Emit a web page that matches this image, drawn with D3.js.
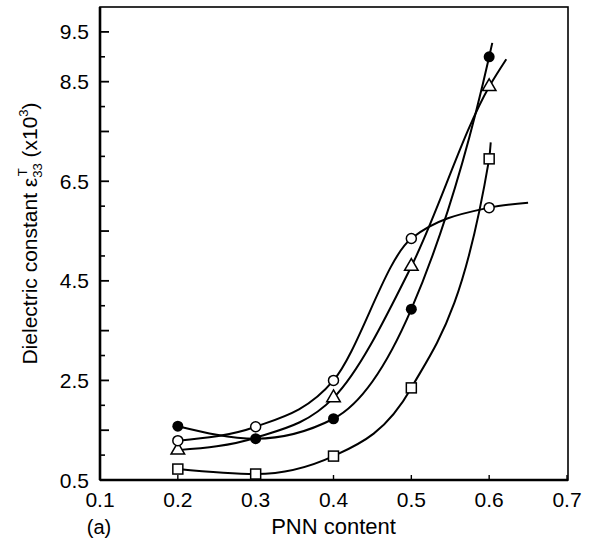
<!DOCTYPE html>
<html>
<head>
<meta charset="utf-8">
<script src="https://cdn.jsdelivr.net/npm/d3@7"></script>
<style>
  body { margin: 0; background: #fff; }
  text { font-family: "Liberation Sans", Arial, Helvetica, sans-serif; fill: #000; }
</style>
</head>
<body>
<div id="chart"></div>
<script>
// PNN content (x) and dielectric constant values (x10^3)
const pnn = [0.2, 0.3, 0.4, 0.5, 0.6];
const openCircle = [1.29, 1.57, 2.50, 5.35, 5.97];
const filledCircle = [1.58, 1.33, 1.73, 3.93, 9.00];
const triangle = [1.10, 1.35, 2.15, 4.79, 8.40];
const square = [0.72, 0.62, 0.98, 2.35, 6.95];
// triangle at 0.3 sits under the filled dot, no marker visible there
const triangleShown = [true, false, true, true, true];

// where each drawn curve runs on past its last point
const openEnd = [0.650, 6.07];
const filledEnd = [0.604, 9.28];
const triangleEnd = [0.622, 8.95];
const squareEnd = [0.602, 7.28];

const xTicks = [0.1, 0.2, 0.3, 0.4, 0.5, 0.6, 0.7];
const yTickLabels = [0.5, 2.5, 4.5, 6.5, 8.5, 9.5];
const yLongTicks = [0.5, 1.5, 2.5, 3.5, 4.5, 5.5, 6.5, 7.5, 8.5, 9.5];
const yShortTicks = [1, 2, 3, 4, 5, 6, 7, 8, 9];

const width = 589;
const height = 546;
const plotLeft = 100, plotRight = 567, plotTop = 7, plotBottom = 480;

const svg = d3.select('#chart')
    .append('svg')
    .attr('width', width)
    .attr('height', height);

const x = d3.scaleLinear().domain([0.1, 0.7]).range([plotLeft, plotRight]);
const y = d3.scaleLinear().domain([0.5, 10.0]).range([plotBottom, plotTop]);

// Frame
svg.append('rect')
    .attr('x', plotLeft)
    .attr('y', plotTop)
    .attr('width', plotRight - plotLeft + 1)
    .attr('height', plotBottom - plotTop)
    .attr('fill', 'none')
    .attr('stroke', '#000')
    .attr('stroke-width', 1.6);
// heavier left and bottom axes
svg.append('line')
    .attr('x1', plotLeft).attr('y1', plotTop).attr('x2', plotLeft).attr('y2', plotBottom)
    .attr('stroke', '#000').attr('stroke-width', 2.6);
svg.append('line')
    .attr('x1', plotLeft).attr('y1', plotBottom).attr('x2', plotRight + 1).attr('y2', plotBottom)
    .attr('stroke', '#000').attr('stroke-width', 2.4);

// Y ticks (inward)
yLongTicks.forEach(v => {
    svg.append('line')
        .attr('x1', plotLeft).attr('x2', plotLeft + 9)
        .attr('y1', y(v)).attr('y2', y(v))
        .attr('stroke', '#000').attr('stroke-width', 1.8);
});
yShortTicks.forEach(v => {
    svg.append('line')
        .attr('x1', plotLeft).attr('x2', plotLeft + 5)
        .attr('y1', y(v)).attr('y2', y(v))
        .attr('stroke', '#000').attr('stroke-width', 1.6);
});
yTickLabels.forEach(v => {
    svg.append('text')
        .attr('x', plotLeft - 11)
        .attr('y', y(v))
        .attr('dy', '0.36em')
        .attr('text-anchor', 'end')
        .style('font-size', '21px')
        .text(v.toFixed(1));
});

// X ticks (inward)
xTicks.forEach(v => {
    svg.append('line')
        .attr('x1', x(v)).attr('x2', x(v))
        .attr('y1', plotBottom).attr('y2', plotBottom - 5)
        .attr('stroke', '#000').attr('stroke-width', 1.4);
    svg.append('text')
        .attr('x', x(v))
        .attr('y', plotBottom + 27)
        .attr('text-anchor', 'middle')
        .style('font-size', '21px')
        .text(v.toFixed(1));
});

// Axis titles
svg.append('text')
    .attr('x', plotLeft - 1)
    .attr('y', 534)
    .attr('text-anchor', 'middle')
    .style('font-size', '20px')
    .text('(a)');

svg.append('text')
    .attr('x', (plotLeft + plotRight) / 2)
    .attr('y', 534)
    .attr('text-anchor', 'middle')
    .style('font-size', '22px')
    .text('PNN content');

const yTitle = svg.append('text')
    .attr('transform', `translate(37,${(plotTop + plotBottom) / 2 - 10}) rotate(-90)`)
    .attr('text-anchor', 'middle')
    .style('font-size', '21px');
yTitle.append('tspan').text('Dielectric constant ε');
yTitle.append('tspan').attr('dy', 5).style('font-size', '13px').text('33');
yTitle.append('tspan').attr('dx', -13).attr('dy', -15).style('font-size', '13px').text('T');
yTitle.append('tspan').attr('dx', 5).attr('dy', 10).text(' (x10');
yTitle.append('tspan').attr('dy', -9).style('font-size', '13px').text('3');
yTitle.append('tspan').attr('dy', 9).text(')');

// Curves
const line = d3.line()
    .x(d => x(d[0]))
    .y(d => y(d[1]))
    .curve(d3.curveMonotoneX);

const series = [
    { values: openCircle, end: openEnd },
    { values: filledCircle, end: filledEnd },
    { values: triangle, end: triangleEnd },
    { values: square, end: squareEnd }
];

series.forEach(s => {
    const pts = pnn.map((p, i) => [p, s.values[i]]).concat([s.end]);
    svg.append('path')
        .datum(pts)
        .attr('d', line)
        .attr('fill', 'none')
        .attr('stroke', '#000')
        .attr('stroke-width', 2);
});

// Markers
svg.selectAll('.sq')
    .data(pnn.map((p, i) => [p, square[i]]))
    .enter()
    .append('rect')
    .attr('x', d => x(d[0]) - 5)
    .attr('y', d => y(d[1]) - 5)
    .attr('width', 10)
    .attr('height', 10)
    .attr('fill', '#fff')
    .attr('stroke', '#000')
    .attr('stroke-width', 1.5);

const tri = d3.symbol().type(d3.symbolTriangle).size(80);
svg.selectAll('.tri')
    .data(pnn.map((p, i) => [p, triangle[i]]).filter((d, i) => triangleShown[i]))
    .enter()
    .append('path')
    .attr('transform', d => `translate(${x(d[0])},${y(d[1])})`)
    .attr('d', tri)
    .attr('fill', '#fff')
    .attr('stroke', '#000')
    .attr('stroke-width', 1.5);

svg.selectAll('.oc')
    .data(pnn.map((p, i) => [p, openCircle[i]]))
    .enter()
    .append('circle')
    .attr('cx', d => x(d[0]))
    .attr('cy', d => y(d[1]))
    .attr('r', 5)
    .attr('fill', '#fff')
    .attr('stroke', '#000')
    .attr('stroke-width', 1.5);

svg.selectAll('.fc')
    .data(pnn.map((p, i) => [p, filledCircle[i]]))
    .enter()
    .append('circle')
    .attr('cx', d => x(d[0]))
    .attr('cy', d => y(d[1]))
    .attr('r', 5.5)
    .attr('fill', '#000');
</script>
</body>
</html>
